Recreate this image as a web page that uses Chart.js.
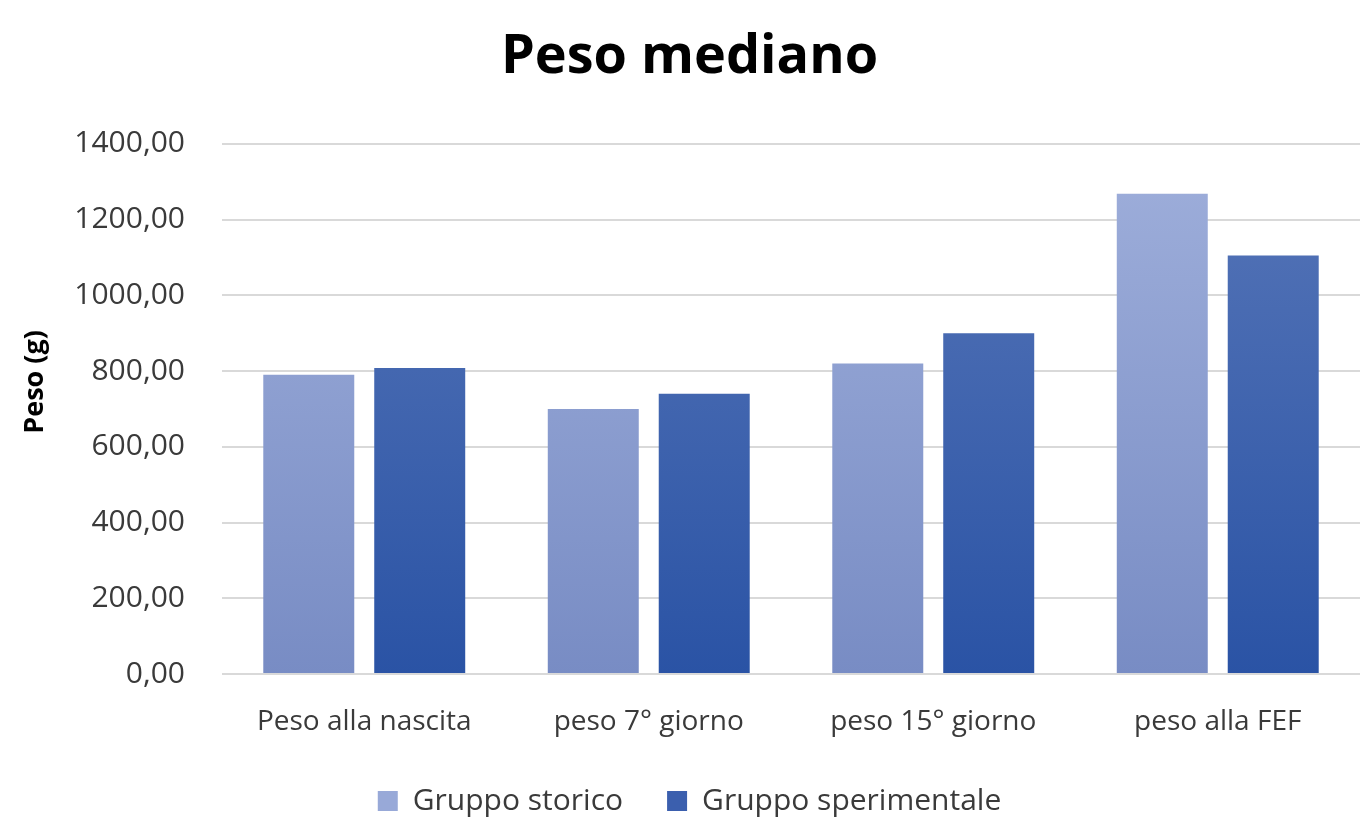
<!DOCTYPE html>
<html>
<head>
<meta charset="utf-8">
<script src="https://cdn.jsdelivr.net/npm/chart.js@4"></script>
<style>
    html, body { margin: 0; padding: 0; background: #fff; }
    #wrap { width: 1362px; height: 818px; }
</style>
</head>
<body>
<div id="wrap"><canvas id="pesoChart"></canvas></div>
<script>
const categories = ['Peso alla nascita', 'peso 7° giorno', 'peso 15° giorno', 'peso alla FEF'];
const gruppoStorico = [790, 700, 820, 1268];
const gruppoSperimentale = [808, 740, 900, 1105];
const yTicks = [0, 200, 400, 600, 800, 1000, 1200, 1400];

const FONT = '"Open Sans", sans-serif';
const legendColors = ['#98a9d8', '#3b5fae'];

// vertical gradient over the plot area
const makeGradient = (top, bottom) => (c) => {
    const area = c.chart.chartArea;
    if (!area) return bottom;
    const g = c.chart.ctx.createLinearGradient(0, area.top, 0, area.bottom);
    g.addColorStop(0, top);
    g.addColorStop(1, bottom);
    return g;
};

const ctx = document.getElementById('pesoChart').getContext('2d');
const chart = new Chart(ctx, {
    type: 'bar',
    data: {
        labels: categories,
        datasets: [{
            label: 'Gruppo storico',
            data: gruppoStorico,
            backgroundColor: makeGradient('#9fafdb', '#788cc4'),
            categoryPercentage: 0.78,
            barPercentage: 0.82
        }, {
            label: 'Gruppo sperimentale',
            data: gruppoSperimentale,
            backgroundColor: makeGradient('#5776b8', '#2a53a5'),
            categoryPercentage: 0.78,
            barPercentage: 0.82
        }]
    },
    options: {
        responsive: true,
        maintainAspectRatio: false,
        animation: false,
        devicePixelRatio: 1,
        layout: { padding: { left: 19, right: 2, bottom: -8 } },
        scales: {
            x: {
                grid: { display: false },
                border: { display: false },
                afterFit: (axis) => { axis.height = 68; },
                ticks: {
                    color: '#3a3a3a',
                    padding: 23,
                    font: { family: FONT, size: 28 }
                }
            },
            y: {
                min: 0,
                max: 1400,
                afterBuildTicks: (axis) => { axis.ticks = yTicks.map(v => ({ value: v })); },
                afterFit: (axis) => { axis.width = 203; },
                grid: { color: '#d9d9d9', lineWidth: 2, drawTicks: false },
                border: { display: false },
                title: {
                    display: true,
                    text: '\u2003\u2003Peso (g)',
                    color: '#000',
                    padding: { top: 0, bottom: 16 },
                    font: { family: FONT, size: 27, weight: 'bold' }
                },
                ticks: {
                    color: '#3a3a3a',
                    padding: 37,
                    font: { family: FONT, size: 30 },
                    callback: (v) => Number(v).toFixed(2).replace('.', ',')
                }
            }
        },
        plugins: {
            title: {
                display: true,
                text: 'Peso mediano',
                color: '#000',
                padding: { top: 25, bottom: 54 },
                font: { family: FONT, size: 54, weight: 'bold' }
            },
            legend: {
                position: 'bottom',
                labels: {
                    color: '#3a3a3a',
                    boxWidth: 20,
                    boxHeight: 20,
                    padding: 44,
                    font: { family: FONT, size: 30 },
                    generateLabels: (chart) =>
                        Chart.defaults.plugins.legend.labels.generateLabels(chart).map((item, i) => ({
                            ...item,
                            fillStyle: legendColors[i],
                            strokeStyle: legendColors[i],
                            lineWidth: 0
                        }))
                }
            },
            tooltip: { enabled: false }
        }
    }
});
</script>
</body>
</html>
